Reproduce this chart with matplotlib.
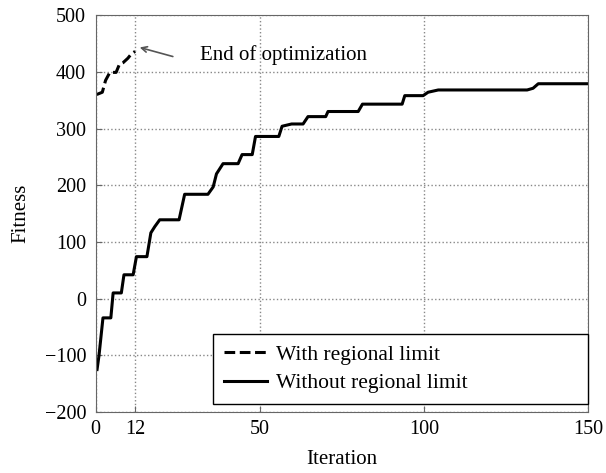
import matplotlib.pyplot as plt

plt.rcParams['font.family'] = ['Liberation Serif', 'DejaVu Serif']

# with regional limit (stops at iteration 12)
it_with = [0.3, 2.0, 3.0, 4.3, 6.2, 7.2, 8.3, 9.8, 10.9, 12.0]
fit_with = [360, 364, 385, 399, 399, 413, 416, 424, 432, 436]

# without regional limit
it_without = [0.4, 1.0, 2.2, 4.6, 5.3, 7.8, 8.6, 11.4, 12.4, 15.6, 16.8, 18.0, 19.5,
              25.4, 27.1, 34.2, 35.8, 36.8, 38.8, 43.4, 44.6, 47.7, 48.7, 55.8, 56.8,
              59.7, 63.2, 64.7, 70.1, 70.8, 80.0, 81.3, 93.4, 94.2, 99.8, 101.3, 104.4,
              131.5, 133.3, 134.9, 150.0]
fit_without = [-125, -100, -34, -34, 10, 10, 42, 42, 74, 74, 116, 127, 139,
               139, 184, 184, 197, 220, 238, 238, 254, 254, 286, 286, 304,
               308, 308, 321, 321, 330, 330, 343, 343, 358, 358, 364, 368,
               368, 371, 379, 379]

xticks = [0, 12, 50, 100, 150]
yticks = [-200, -100, 0, 100, 200, 300, 400, 500]

fig = plt.figure(figsize=(6.06, 4.73), dpi=100)
ax = fig.add_axes([0.158, 0.129, 0.812, 0.839])

ax.plot(it_with, fit_with, color='black', lw=2.2, ls=(0, (3.5, 1.5)), label='With regional limit')
ax.plot(it_without, fit_without, color='black', lw=2.2, label='Without regional limit')

ax.set_xlim(0, 150)
ax.set_ylim(-200, 500)
ax.set_xticks(xticks)
ax.set_yticks(yticks)
ax.grid(True, ls=':', color='#888888', lw=1.0)
ax.tick_params(direction='in', labelsize=14.5, length=4, color='#666666')
ax.tick_params(axis='y', pad=7)
ax.tick_params(axis='x', pad=6)
for s in ax.spines.values():
    s.set_color('#666666')

ax.set_xlabel('Iteration', fontsize=15, labelpad=8)
ax.set_ylabel('Fitness', fontsize=15, labelpad=10)

# arrow and text for the end of the limited run
ax.annotate('', xy=(13.4, 443), xytext=(23.5, 427),
            arrowprops=dict(arrowstyle='->', color='#555555', lw=1.2,
                            shrinkA=0, shrinkB=0))
ax.text(31.7, 421, 'End of optimization', fontsize=15, va='baseline', ha='left')

leg = ax.legend(loc='lower left', bbox_to_anchor=(0.238, 0.02, 0.762, 0.18),
                mode='expand', fontsize=15.5, fancybox=False, framealpha=1,
                edgecolor='black', borderaxespad=0, handlelength=2.0,
                handletextpad=0.45, borderpad=0.5, labelspacing=0.4)
leg.get_frame().set_linewidth(1.0)

fig.savefig('out.png', dpi=100)
